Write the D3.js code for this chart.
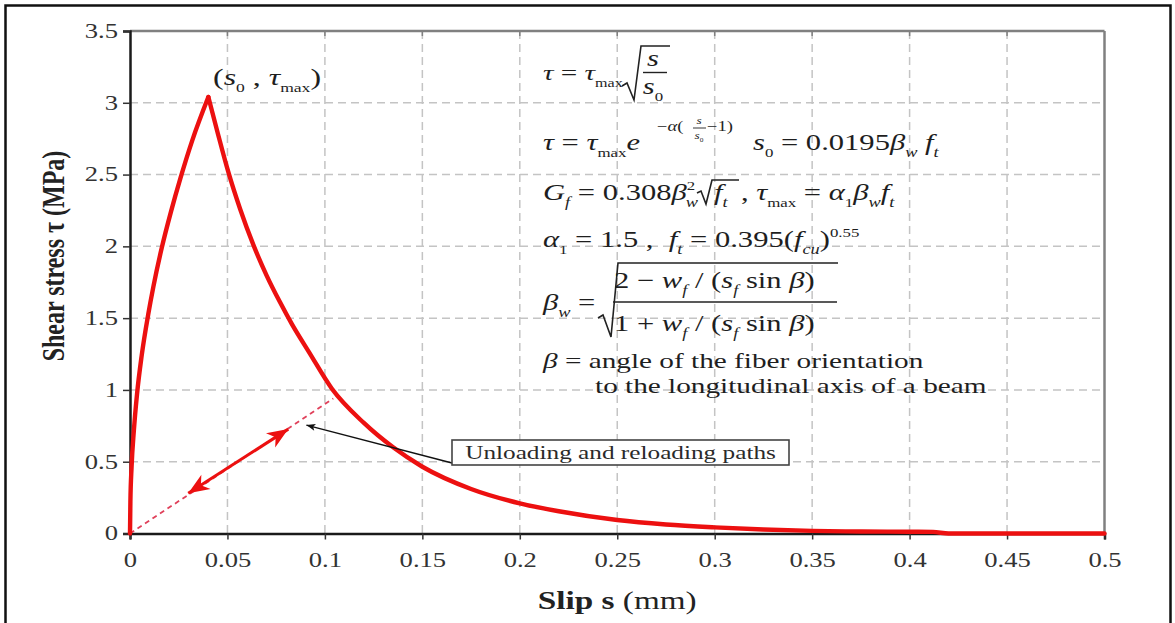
<!DOCTYPE html>
<html><head><meta charset="utf-8">
<script src="https://cdn.jsdelivr.net/npm/d3@7"></script>
<style>html,body{margin:0;padding:0;background:#fff;} text{white-space:pre;}</style>
</head><body>
<svg id="c" width="1175" height="623"></svg>
<script>
// ---------- data ----------
const xTicks = [0,0.05,0.1,0.15,0.2,0.25,0.3,0.35,0.4,0.45,0.5];
const xTickLabels = ["0","0.05","0.1","0.15","0.2","0.25","0.3","0.35","0.4","0.45","0.5"];
const yTicks = [0,0.5,1,1.5,2,2.5,3,3.5];
const yTickLabels = ["0","0.5","1","1.5","2","2.5","3","3.5"];
// ascending branch
const upS   = [0, 0.0002, 0.0008, 0.002, 0.0036, 0.006, 0.0094, 0.012, 0.0163, 0.021, 0.026, 0.032, 0.0402];
const upTau = [0, 0.22,   0.46,   0.72,  0.97,   1.24,  1.53,   1.72,  1.99,   2.24,  2.48,  2.74,  3.04];
// descending branch
const downS   = [0.0402, 0.045, 0.0504, 0.0565, 0.0633, 0.07, 0.077, 0.083, 0.092, 0.1035, 0.12, 0.135, 0.15, 0.175, 0.2, 0.22, 0.25, 0.275, 0.3, 0.325, 0.35, 0.375, 0.4, 0.412, 0.42, 0.5];
const downTau = [3.04,   2.79,  2.52,   2.26,   2.01,   1.8,  1.61,  1.46,  1.26,  1.01,   0.77, 0.6,   0.465, 0.31, 0.21, 0.155, 0.094, 0.063, 0.043, 0.028, 0.018, 0.014, 0.012, 0.011, 0.0, 0.0];
// unloading / reloading path
const unloadS = [0, 0.1043];
const unloadTau = [0, 0.94];
const arrowS = [0.0299, 0.0812];
const arrowTau = [0.28, 0.727];
const annotPoint = [0.0905, 0.755];
const annotText = "Unloading and reloading paths";

// ---------- setup ----------
const svg = d3.select("#c");
const SX = 1.33;
const serif = "'Liberation Serif','Times New Roman',serif";
const x = d3.scaleLinear().domain([0,0.5]).range([130,1104.5]);
const y = d3.scaleLinear().domain([0,3.5]).range([533.5,31]);

// outer frame
svg.append("rect").attr("x",5.5).attr("y",5.5).attr("width",1165).attr("height",640)
  .attr("fill","none").attr("stroke","#111").attr("stroke-width",2.5);

// grid
const grid = svg.append("g").attr("stroke","#c4c4c4").attr("stroke-width",1.5).attr("stroke-dasharray","8,5");
grid.selectAll("line.v").data(xTicks.filter(d=>d>0&&d<0.5)).join("line")
  .attr("x1",d=>x(d)).attr("x2",d=>x(d)).attr("y1",y(3.5)).attr("y2",y(0));
grid.selectAll("line.h").data(yTicks.filter(d=>d>0&&d<3.5)).join("line")
  .attr("x1",x(0)).attr("x2",x(0.5)).attr("y1",d=>y(d)).attr("y2",d=>y(d));

// top & right frame of plot
svg.append("line").attr("x1",x(0)).attr("x2",x(0.5)).attr("y1",y(3.5)).attr("y2",y(3.5)).attr("stroke","#808080").attr("stroke-width",2.5);
svg.append("line").attr("x1",x(0.5)).attr("x2",x(0.5)).attr("y1",y(3.5)).attr("y2",y(0)).attr("stroke","#808080").attr("stroke-width",2.5);
svg.append("g").selectAll("line").data(xTicks.slice(1,-1)).join("line")
  .attr("x1",d=>x(d)).attr("x2",d=>x(d)).attr("y1",y(3.5)).attr("y2",y(3.5)+5).attr("stroke","#808080").attr("stroke-width",1.5);

// axes
const xAxis = svg.append("g").attr("transform",`translate(0,${y(0)})`)
  .call(d3.axisBottom(x).tickValues(xTicks).tickFormat((d,i)=>xTickLabels[i]).tickSizeOuter(0).tickSize(6).tickPadding(13));
const yAxis = svg.append("g").attr("transform",`translate(${x(0)},0)`)
  .call(d3.axisLeft(y).tickValues(yTicks).tickFormat((d,i)=>yTickLabels[i]).tickSizeOuter(0).tickSize(7).tickPadding(10));
[xAxis,yAxis].forEach(a=>{
  a.select(".domain").attr("stroke","#1a1a1a").attr("stroke-width",2.5);
  a.selectAll(".tick line").attr("stroke","#333").attr("stroke-width",1.5);
  a.selectAll("text").attr("font-family",serif).attr("font-size",20).attr("fill","#333");
});
xAxis.selectAll("text").attr("transform",`scale(${SX},1)`);
yAxis.selectAll("text").attr("x",-12/SX).attr("transform",`scale(${SX},1)`);

// axis titles
const xt = svg.append("text").attr("transform",`translate(${(x(0)+x(0.5))/2},609) scale(${SX},1)`)
  .attr("text-anchor","middle").attr("font-family",serif).attr("font-size",25).attr("fill","#222");
xt.append("tspan").attr("font-weight","bold").text("Slip s");
xt.append("tspan").text(" (mm)");
svg.append("text").attr("transform",`translate(64,256) scale(${SX},1) rotate(-90)`)
  .attr("text-anchor","middle").attr("font-family",serif).attr("font-size",24).attr("font-weight","bold").attr("fill","#222")
  .text("Shear stress τ (MPa)");

// unloading dashed path
svg.append("line").attr("x1",x(unloadS[0])).attr("y1",y(unloadTau[0])).attr("x2",x(unloadS[1])).attr("y2",y(unloadTau[1]))
  .attr("stroke","#e0405a").attr("stroke-width",1.8).attr("stroke-dasharray","5,4");

// curve
const line = d3.line().x(d=>x(d[0])).y(d=>y(d[1])).curve(d3.curveMonotoneX);
const curveStyle = p=>p.attr("fill","none").attr("stroke","#ec1010").attr("stroke-width",4.4).attr("stroke-linejoin","round").attr("stroke-linecap","round");
svg.append("path").attr("d",line(upS.map((s,i)=>[s,upTau[i]]))).call(curveStyle);
svg.append("path").attr("d",line(downS.map((s,i)=>[s,downTau[i]]))).call(curveStyle);

// double-headed red arrow
function head(tx,ty,fx,fy,len,hw,notch,color){
  const a=Math.atan2(ty-fy,tx-fx), c=Math.cos(a), s=Math.sin(a);
  const bx=tx-len*c, by=ty-len*s;
  const p1=[bx - hw*(-s), by - hw*c], p2=[bx + hw*(-s), by + hw*c];
  const n=[tx-(len-notch)*c, ty-(len-notch)*s];
  svg.append("path").attr("d",`M${tx},${ty}L${p1[0]},${p1[1]}L${n[0]},${n[1]}L${p2[0]},${p2[1]}Z`).attr("fill",color);
}
const ax0=x(arrowS[0]), ay0=y(arrowTau[0]), ax1=x(arrowS[1]), ay1=y(arrowTau[1]);
svg.append("line").attr("x1",ax0).attr("y1",ay0).attr("x2",ax1).attr("y2",ay1).attr("stroke","#ec1010").attr("stroke-width",3);
head(ax1,ay1,ax0,ay0,21,8.5,6,"#ec1010");
head(ax0,ay0,ax1,ay1,21,8.5,6,"#ec1010");

// annotation
const bx0=452, bx1=789, by0=440, by1=465;
svg.append("line").attr("x1",bx0).attr("y1",463).attr("x2",x(annotPoint[0])).attr("y2",y(annotPoint[1]))
  .attr("stroke","#111").attr("stroke-width",1.5);
head(x(annotPoint[0]),y(annotPoint[1]),bx0,463,9,3.5,2,"#111");
svg.append("rect").attr("x",bx0).attr("y",by0).attr("width",bx1-bx0).attr("height",by1-by0)
  .attr("fill","#fff").attr("stroke","#444").attr("stroke-width",1.6);
svg.append("text").attr("transform",`translate(${(bx0+bx1)/2},459) scale(${SX},1)`).attr("text-anchor","middle")
  .attr("font-family",serif).attr("font-size",19).attr("fill","#2a2a2a").text(annotText);

// ---------- equations ----------
function seg(X,Y,parts,fs=22,anchor="start"){
  const t=svg.append("text").attr("transform",`translate(${X},${Y}) scale(${SX},1)`)
    .attr("font-family",serif).attr("font-size",fs).attr("fill","#1e1e1e").attr("text-anchor",anchor);
  let cur=0;
  parts.forEach(p=>{
    const [txt,type,dx]=p;
    let sh=0,size=fs,it=false;
    if(type==="i") it=true;
    if(type==="sub"){sh=fs*0.3;size=fs*0.55;}
    if(type==="subi"){sh=fs*0.3;size=fs*0.6;it=true;}
    if(type==="sup"){sh=-fs*0.42;size=fs*0.55;}
    const ts=t.append("tspan").attr("dy",sh-cur).attr("font-size",size).attr("font-style",it?"italic":"normal").text(txt);
    if(dx) ts.attr("dx",dx);
    cur=sh;
  });
  return t;
}
function path(d,w=1.6){svg.append("path").attr("d",d).attr("fill","none").attr("stroke","#222").attr("stroke-width",w).attr("stroke-linejoin","miter");}

// line 1
seg(543,80,[["τ","i"],[" = ","n"],["τ","i"],["max","sub"]],22);
path("M622,86L627,83L634,100L641,46L670,46");
seg(653,66,[["s","i"]],23,"middle");
path("M643,72.5L667,72.5",1.4);
seg(653,94,[["s","i"],["0","sub"]],23,"middle");

// line 2
seg(543,150,[["τ","i"],[" = ","n"],["τ","i"],["max","sub"],["e","i"]],23);
seg(657,131,[["−","n"],["α","i"],["(","n"]],14);
seg(699,124,[["s","i"]],10,"middle");
path("M693,128L706,128",0.9);
seg(699,139,[["s","i"],["0","sub"]],10,"middle");
seg(707,131,[["−1)","n"]],14);
seg(753,150,[["s","i"],["0","sub"],[" = 0.0195","n"],["β","i"],["w","subi"],[" f","i"],["t","subi"]],23);

// line 3
seg(543,200,[["G","i"],["f","subi"],[" = 0.308","n"],["β","i"],["2","sup"],["w","subi",-7]],23);
path("M697,193L701,191L706,204L712,180L739,180");
seg(714,200,[["f","i"],["t","subi"]],23);
seg(741,200,[[", ","n"],["τ","i"],["max","sub"],[" = ","n"],["α","i"],["1","sub"],["β","i"],["w","subi"],["f","i"],["t","subi"]],23);

// line 4
seg(543,247,[["α","i"],["1","sub"],[" = 1.5 ,  ","n"],["f","i"],["t","subi"],[" = 0.395(","n"],["f","i"],["cu","subi"],[")","n"],["0.55","sup"]],23);

// line 5
seg(543,310,[["β","i"],["w","subi"],[" =","n"]],23);
path("M598,318L603,315L611,337L618,263L838,263");
seg(614,288,[["2 − ","n"],["w","i"],["f","subi"],[" / ","n"],["(","n"],["s","i"],["f","subi"],[" sin ","n"],["β","i"],[")","n"]],23);
path("M613,302L837,302",1.5);
seg(614,331,[["1 + ","n"],["w","i"],["f","subi"],[" / ","n"],["(","n"],["s","i"],["f","subi"],[" sin ","n"],["β","i"],[")","n"]],23);

// lines 6-7
seg(543,368,[["β","i"],[" = angle of the fiber orientation","n"]],22);
seg(595,393,[["to the longitudinal axis of a beam","n"]],22);

// peak label
seg(213,85,[["(","n"],["s","i"],["0","sub"],[" , ","n"],["τ","i"],["max","sub"],[")","n"]],24);
</script>
</body></html>
